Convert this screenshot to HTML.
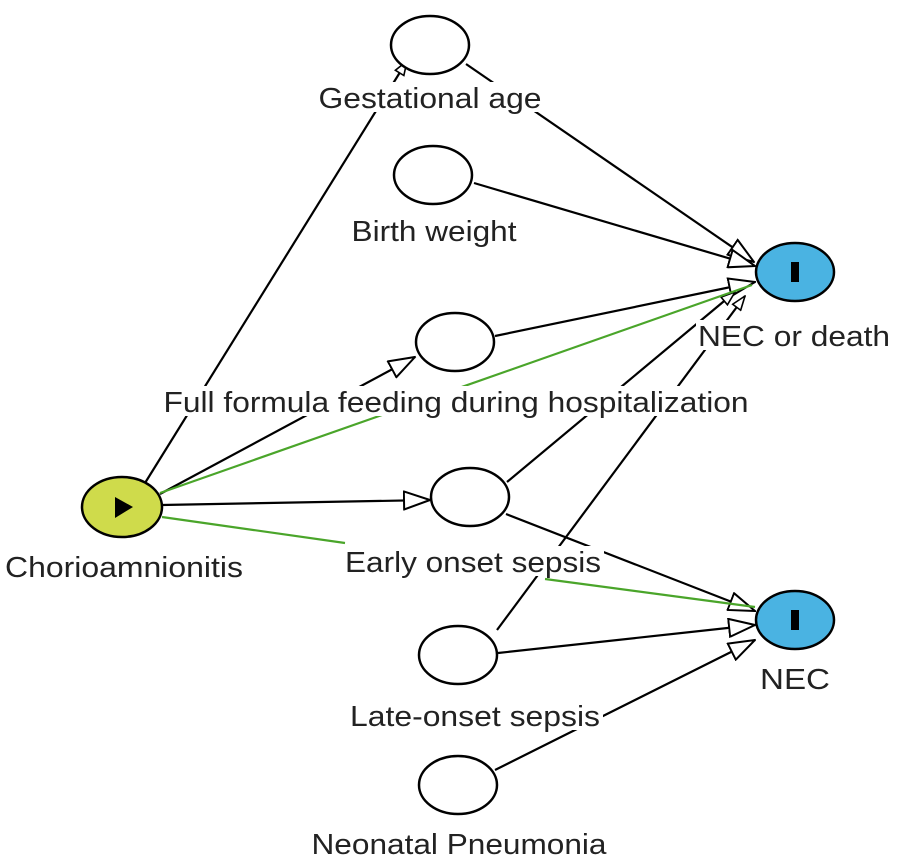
<!DOCTYPE html>
<html><head><style>body{margin:0;background:#fff}svg{display:block}</style></head><body>
<svg width="897" height="868" viewBox="0 0 897 868" xmlns="http://www.w3.org/2000/svg" font-family="Liberation Sans, sans-serif" font-size="29">
<defs>
<marker id="a" markerWidth="28" markerHeight="20" refX="27" refY="10" orient="auto" markerUnits="userSpaceOnUse">
<path d="M1,1 L27,10 L1,19 Z" fill="#fff" stroke="#000" stroke-width="2"/></marker>
<marker id="s" markerWidth="16" markerHeight="12" refX="15" refY="6" orient="auto" markerUnits="userSpaceOnUse">
<path d="M1,1 L15,6 L1,11 Z" fill="#fff" stroke="#000" stroke-width="1.6"/></marker>
</defs>
<g stroke="#000" stroke-width="2.2" fill="none">
<line x1="145" y1="483" x2="407" y2="61" marker-end="url(#s)"/>
<line x1="466" y1="64" x2="754" y2="262" marker-end="url(#a)"/>
<line x1="474" y1="183" x2="755" y2="266" marker-end="url(#a)"/>
<line x1="495" y1="336" x2="755" y2="282" marker-end="url(#a)"/>
<line x1="160" y1="494" x2="415" y2="357" marker-end="url(#a)"/>
<line x1="162" y1="505" x2="430" y2="500" marker-end="url(#a)"/>
<line x1="507" y1="482" x2="735" y2="292" marker-end="url(#s)"/>
<line x1="497" y1="630" x2="745" y2="296" marker-end="url(#s)"/>
<line x1="506" y1="514" x2="755" y2="611" marker-end="url(#a)"/>
<line x1="498" y1="653" x2="755" y2="625" marker-end="url(#a)"/>
<line x1="495" y1="770" x2="755" y2="640" marker-end="url(#a)"/>
</g>
<g stroke="#4aa52a" stroke-width="2.2" fill="none">
<line x1="160" y1="493" x2="752" y2="285"/>
<line x1="162" y1="517" x2="345" y2="543"/>
<line x1="545" y1="579" x2="755" y2="607"/>
</g>
<g fill="#fff">
<rect x="316" y="82" width="228" height="30"/>
<rect x="350" y="215" width="170" height="30"/>
<rect x="160" y="386" width="592" height="30"/>
<rect x="342" y="546" width="262" height="30"/>
<rect x="347" y="700" width="256" height="30"/>
<rect x="310" y="828" width="298" height="30"/>
<rect x="696" y="320" width="196" height="30"/>
<rect x="757" y="663" width="76" height="30"/>
</g>
<g stroke="#000" stroke-width="2.5">
<ellipse cx="430" cy="45" rx="39" ry="29" fill="#fff"/>
<ellipse cx="433" cy="175" rx="39" ry="29" fill="#fff"/>
<ellipse cx="455" cy="342" rx="39" ry="29" fill="#fff"/>
<ellipse cx="470" cy="497" rx="39" ry="29" fill="#fff"/>
<ellipse cx="458" cy="655" rx="39" ry="29" fill="#fff"/>
<ellipse cx="458" cy="785" rx="39" ry="29" fill="#fff"/>
<ellipse cx="122" cy="507" rx="40" ry="30" fill="#cfdb4b"/>
<ellipse cx="795" cy="272" rx="39" ry="29" fill="#4ab3e2"/>
<ellipse cx="795" cy="620" rx="39" ry="29" fill="#4ab3e2"/>
</g>
<path d="M115,497 L133,507 L115,518 Z" fill="#000"/>
<rect x="791" y="262" width="8" height="20" fill="#000"/>
<rect x="791" y="610" width="8" height="20" fill="#000"/>
<g fill="#222" text-anchor="middle" lengthAdjust="spacingAndGlyphs">
<text x="430" y="108" textLength="223" lengthAdjust="spacingAndGlyphs">Gestational age</text>
<text x="434" y="241" textLength="165" lengthAdjust="spacingAndGlyphs">Birth weight</text>
<text x="456" y="412" textLength="585" lengthAdjust="spacingAndGlyphs">Full formula feeding during hospitalization</text>
<text x="473" y="572" textLength="256" lengthAdjust="spacingAndGlyphs">Early onset sepsis</text>
<text x="475" y="726" textLength="250" lengthAdjust="spacingAndGlyphs">Late-onset sepsis</text>
<text x="459" y="854" textLength="295" lengthAdjust="spacingAndGlyphs">Neonatal Pneumonia</text>
<text x="124" y="577" textLength="238" lengthAdjust="spacingAndGlyphs">Chorioamnionitis</text>
<text x="794" y="346" textLength="192" lengthAdjust="spacingAndGlyphs">NEC or death</text>
<text x="795" y="689" textLength="70" lengthAdjust="spacingAndGlyphs">NEC</text>
</g>
</svg>
</body></html>
